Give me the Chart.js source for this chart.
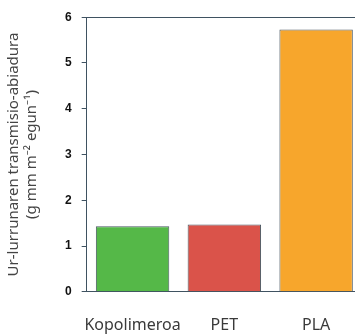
<!DOCTYPE html>
<html>
<head>
<meta charset="utf-8">
<script src="https://cdn.jsdelivr.net/npm/chart.js@4.4.0/dist/chart.umd.min.js"></script>
<style>
  html, body { margin: 0; padding: 0; background: #fff; overflow: hidden; }
  #wrap { width: 362px; height: 359px; }
</style>
</head>
<body>
<div id="wrap"><canvas id="chart" width="362" height="359"></canvas></div>
<script>
// Chart data
const categories = ["Kopolimeroa", "PET", "PLA"];
const rates = [1.43, 1.47, 5.73];
const barColors = ["#55b848", "#da534a", "#f7a62c"];
const yTitle = ["Ur-lurrunaren transmisio-abiadura", "(g mm m\u207B\u00B2 egun\u207B\u00B9)"];
const yMax = 6;

const axisColor = "#3f5261";

const ctx = document.getElementById("chart").getContext("2d");

new Chart(ctx, {
    type: "bar",
    data: {
        labels: categories,
        datasets: [
            {
                data: rates,
                backgroundColor: barColors,
                borderColor: "#4b5a64",
                borderWidth: 1,
                borderSkipped: "bottom",
                barPercentage: 0.8,
                categoryPercentage: 1.0,
            },
        ],
    },
    options: {
        responsive: false,
        animation: false,
        layout: {
            padding: { top: 10, left: 5, right: 0, bottom: 0 },
        },
        plugins: {
            legend: { display: false },
            tooltip: { enabled: false },
        },
        scales: {
            x: {
                grid: { display: false, drawTicks: false },
                border: { display: true, color: axisColor, width: 1 },
                ticks: {
                    padding: 24,
                    autoSkip: false,
                    maxRotation: 0,
                    minRotation: 0,
                    color: "#3a3a3a",
                    font: { family: "'Noto Sans'", size: 16 },
                },
            },
            y: {
                min: 0,
                max: yMax,
                ticks: {
                    stepSize: 1,
                    padding: 10,
                    color: "#111",
                    font: { family: "'Liberation Sans'", size: 12, weight: "bold" },
                },
                grid: {
                    tickLength: 5,
                    tickColor: axisColor,
                    color: (c) => (c.tick && c.tick.value === yMax ? axisColor : "rgba(0,0,0,0)"),
                },
                border: { display: true, color: axisColor, width: 1 },
                title: {
                    display: true,
                    text: yTitle,
                    color: "#444",
                    padding: { top: 0, bottom: 14 },
                    font: { family: "'Noto Sans'", size: 15, lineHeight: 1.2 },
                },
            },
        },
    },
});
</script>
</body>
</html>
